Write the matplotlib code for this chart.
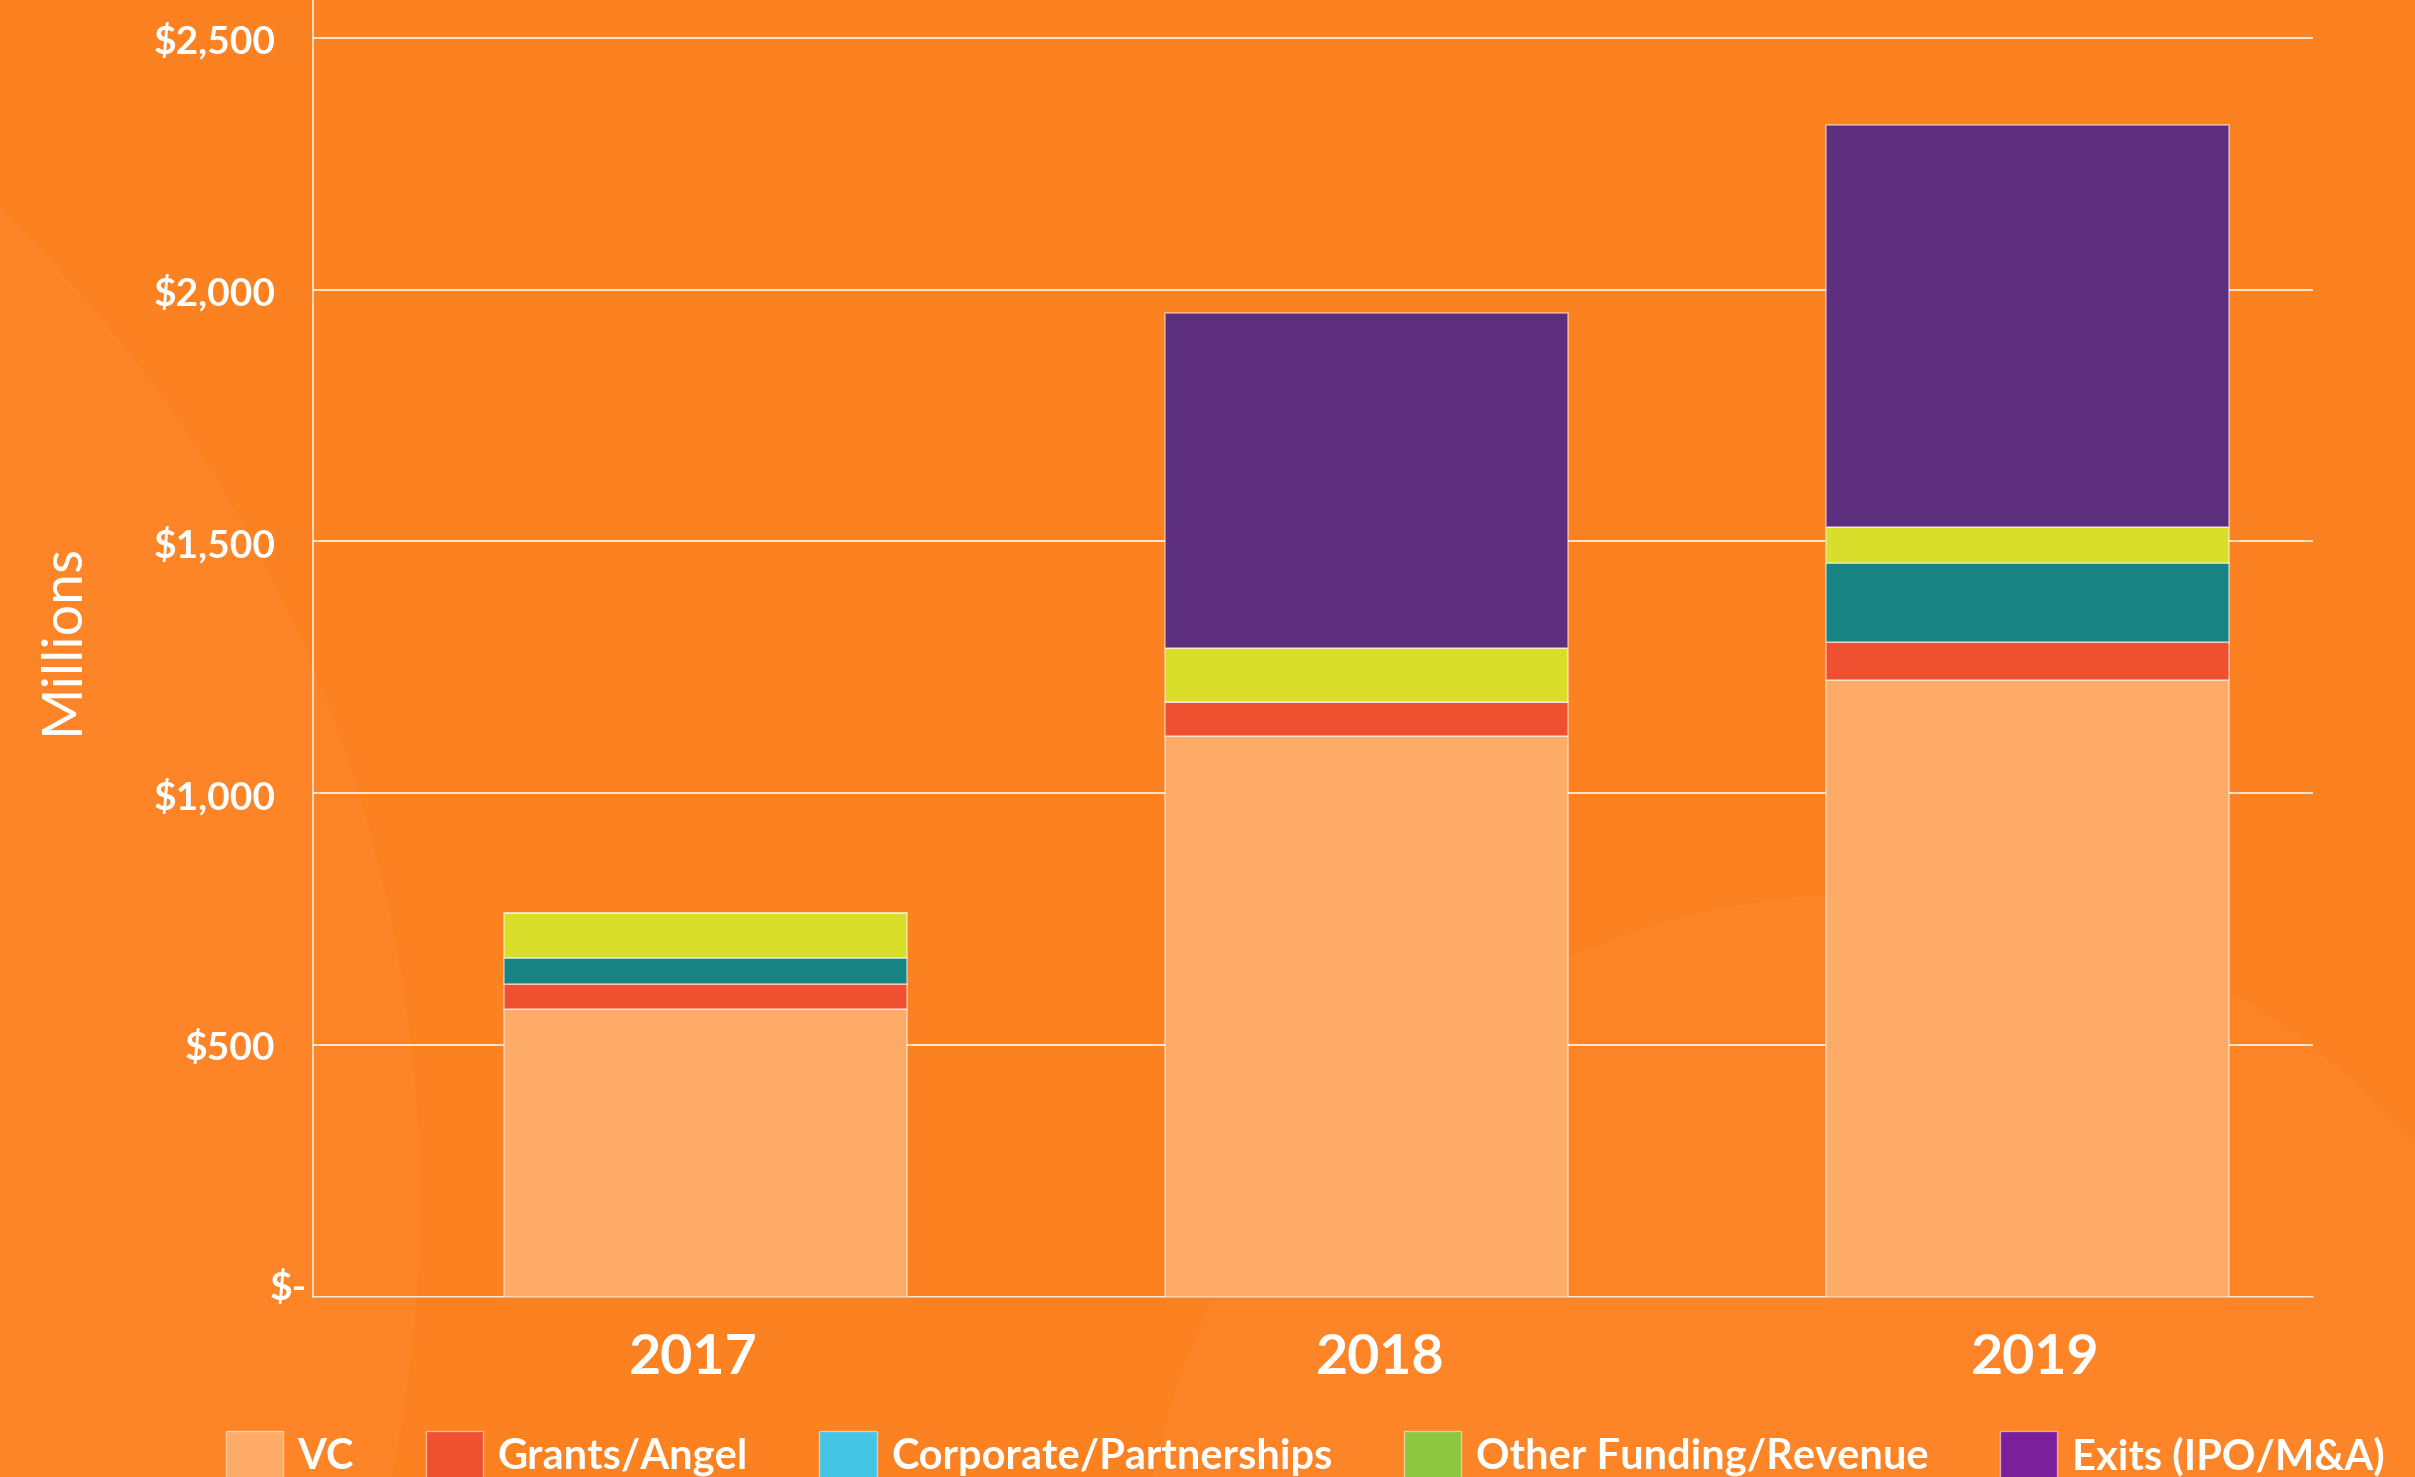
import matplotlib
matplotlib.use("Agg")
import matplotlib.pyplot as plt
from matplotlib.patches import Patch, Ellipse
from matplotlib.transforms import ScaledTranslation
import numpy as np

# ---- data ----
years = ["2017", "2018", "2019"]
vc = [572, 1114, 1224]
grants = [50, 67, 77]
corporate = [52, 0, 157]
other = [89, 107, 70]
exits = [0, 665, 799]
series_names = ["VC", "Grants/Angel", "Corporate/Partnerships",
                "Other Funding/Revenue", "Exits (IPO/M&A)"]
y_ticks = [0, 500, 1000, 1500, 2000, 2500]
y_tick_labels = ["$-", "$500", "$1,000", "$1,500", "$2,000", "$2,500"]

# ---- style ----
BG = "#FC8121"
BG_LIGHT = "#FD8527"
bar_colors = ["#FFAB68", "#EE5030", "#188383", "#D9DE2B", "#5E2E7E"]
legend_colors = ["#FFAB68", "#EE5030", "#45C5E6", "#8DC641", "#7B1F9A"]
FONT = "Lato"

W, H = 2415, 1477
fig = plt.figure(figsize=(W / 100, H / 100), dpi=100, facecolor=BG)

# background layer with subtle decorative circles
bg_ax = fig.add_axes([0, 0, 1, 1], zorder=-5)
bg_ax.set_xlim(0, W)
bg_ax.set_ylim(H, 0)
bg_ax.axis("off")
for cx, cy, r in [(-959, 1200, 1379), (1866, 1622, 728)]:
    bg_ax.add_patch(Ellipse((cx, cy), 2 * r, 2 * r, facecolor=BG_LIGHT,
                            edgecolor="none"))

left, right, bottom = 313 / W, 2313 / W, 1 - 1297 / H
ax = fig.add_axes([left, bottom, right - left, 1 - bottom], zorder=2)
ax.set_facecolor("none")

x = np.arange(len(years))
width = 0.61
stack = [vc, grants, corporate, other, exits]
base = np.zeros(len(years))
for vals, col in zip(stack, bar_colors):
    vals = np.array(vals, dtype=float)
    ax.bar(x, vals, width, bottom=base, color=col,
           edgecolor=(1, 1, 1, 0.55), linewidth=1.1, zorder=3)
    base += vals

ax.set_xlim(-0.594, 2.432)
ax.set_ylim(0, 2575)

ax.set_yticks(y_ticks)
ax.set_yticklabels(y_tick_labels)
ax.set_xticks(x)
ax.set_xticklabels(years)

ax.tick_params(axis="y", length=0, pad=27, colors="white", labelsize=28)
ax.tick_params(axis="x", length=0, pad=26, colors="white", labelsize=40)
for lab in ax.get_yticklabels():
    lab.set_fontfamily(FONT)
    lab.set_fontweight("bold")
for lab, dx in zip(ax.get_xticklabels(), [-0.12, 0.14, 0.08]):
    lab.set_fontfamily(FONT)
    lab.set_fontweight("bold")
    lab.set_transform(lab.get_transform() +
                      ScaledTranslation(dx, 0, fig.dpi_scale_trans))

# "$-" label sits further right and slightly higher (accounting format)
zero_lab = ax.get_yticklabels()[0]
zero_lab.set_transform(zero_lab.get_transform() +
                       ScaledTranslation(0.31, 0.12, fig.dpi_scale_trans))

ax.grid(axis="y", color=(1, 1, 1, 0.45), linewidth=1.1, zorder=1)
ax.grid(axis="x", visible=False)
ax.set_axisbelow(True)

for s in ["top", "right"]:
    ax.spines[s].set_visible(False)
ax.spines["left"].set_color((1, 1, 1, 0.9))
ax.spines["left"].set_linewidth(1.1)
ax.spines["bottom"].set_color((1, 1, 1, 0.5))
ax.spines["bottom"].set_linewidth(1.1)

ax.text((62 - 313) / 2000, 0.508, "Millions", transform=ax.transAxes,
        rotation=90, ha="center", va="center", color="white",
        fontsize=40, fontfamily=FONT, fontweight="normal")

handles = [Patch(facecolor=c, edgecolor=(1, 1, 1, 0.5), linewidth=1.0)
           for c in legend_colors]
leg = fig.legend(handles, series_names, loc="center left",
                 bbox_to_anchor=(226 / W, 1 - 1455 / H), ncol=5,
                 frameon=False, borderpad=0, borderaxespad=0,
                 handlelength=1.37, handleheight=1.37, handletextpad=0.35,
                 columnspacing=1.72,
                 prop={"family": FONT, "weight": "bold", "size": 30})
for t in leg.get_texts():
    t.set_color("white")

fig.savefig("out.png", dpi=100, facecolor=BG)
